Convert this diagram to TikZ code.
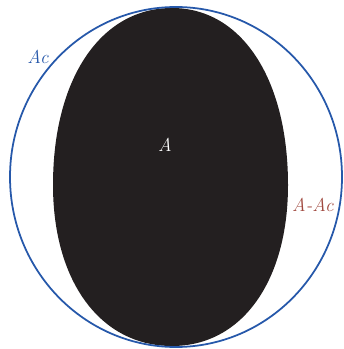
\documentclass[tikz,border=0pt]{standalone}
\usepackage{tikz}
\definecolor{setblue}{RGB}{38,88,170}
\definecolor{setred}{RGB}{160,72,62}
\definecolor{setdark}{RGB}{35,31,32}
\begin{document}
\begin{tikzpicture}[x=0.03cm,y=-0.03cm]
\useasboundingbox (0,0) rectangle (343,349);
% 집합 A (검은 영역)
\fill[setdark] (172,8) .. controls (241.6,8) and (288,78.8) .. (288,185)
  .. controls (288,281.6) and (241.6,346) .. (172,346)
  .. controls (100.6,346) and (53,281.6) .. (53,185)
  .. controls (53,78.8) and (100.6,8) .. cycle;
% 덮개 Ac
\draw[setblue,line width=1.5pt] (176,177) ellipse (166 and 170);
\node[text=setblue] (ac) at (38,57) {\fontsize{16}{19}\selectfont\textit{Ac}};
\node[text=white] (a) at (165,145) {\fontsize{16}{19}\selectfont\textit{A}};
\node[text=setred] (diff) at (313,205) {\fontsize{16}{19}\selectfont\textit{A-Ac}};
\end{tikzpicture}
\end{document}
